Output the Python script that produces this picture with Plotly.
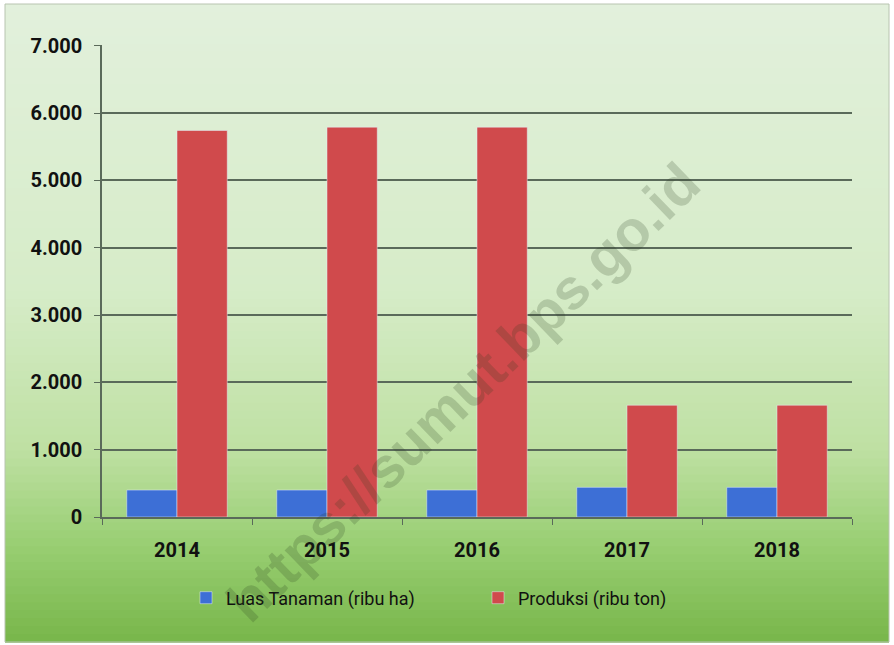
import plotly.graph_objects as go

years = ["2014", "2015", "2016", "2017", "2018"]
luas_tanaman = [400, 400, 400, 440, 440]
produksi = [5740, 5790, 5790, 1660, 1660]
y_ticks = [0, 1000, 2000, 3000, 4000, 5000, 6000, 7000]

series_names = ["Luas Tanaman (ribu ha)", "Produksi (ribu ton)"]
colors = ["#3d6fd6", "#d04a4c"]

font_family = "Roboto, Liberation Sans, Arial, sans-serif"

fig = go.Figure()
fig.add_trace(go.Bar(x=years, y=luas_tanaman, name=series_names[0], marker_color=colors[0],
                     legend="legend"))
fig.add_trace(go.Bar(x=years, y=produksi, name=series_names[1], marker_color=colors[1],
                     legend="legend2"))

# plot area in pixels
L, R, T, B = 102, 852, 45, 517
PW, PH = R - L, B - T

def px_x(x):
    return (x - L) / PW

def px_y(y):
    return (B - y) / PH

def lerp(a, b, t):
    return tuple(int(round(a[i] + (b[i] - a[i]) * t)) for i in range(3))

stops = [(0.0, (226, 240, 220)), (0.45, (214, 236, 200)), (0.7, (190, 224, 162)),
         (0.85, (152, 206, 114)), (1.0, (120, 182, 74))]

def grad(t):
    for i in range(len(stops) - 1):
        t0, c0 = stops[i]
        t1, c1 = stops[i + 1]
        if t0 <= t <= t1:
            return lerp(c0, c1, (t - t0) / (t1 - t0))
    return stops[-1][1]

shapes = []
N = 80
top_px, bot_px = 4, 642
for i in range(N):
    y0 = top_px + (bot_px - top_px) * i / N
    y1 = top_px + (bot_px - top_px) * (i + 1) / N + 0.8
    c = grad((i + 0.5) / N)
    shapes.append(dict(type="rect", xref="paper", yref="paper", layer="below",
                       x0=px_x(5), x1=px_x(889), y0=px_y(y1), y1=px_y(y0),
                       fillcolor="rgb(%d,%d,%d)" % c, line=dict(width=0)))
shapes.append(dict(type="rect", xref="paper", yref="paper", layer="above",
                   x0=px_x(5), x1=px_x(889), y0=px_y(642), y1=px_y(4),
                   fillcolor="rgba(0,0,0,0)", line=dict(color="#b8c4b0", width=1)))

legend_style = dict(orientation="h", xanchor="left", y=px_y(598), yanchor="middle",
                    font=dict(size=18, family=font_family, color="#111111"),
                    bgcolor="rgba(0,0,0,0)", itemwidth=30)

fig.update_layout(
    width=894, height=645,
    margin=dict(l=L, r=894 - R, t=T, b=645 - B),
    paper_bgcolor="white",
    plot_bgcolor="rgba(0,0,0,0)",
    separators=",.",
    barmode="group",
    bargap=0.33,
    bargroupgap=0,
    shapes=shapes,
    font=dict(family=font_family, color="#111111"),
    showlegend=True,
    legend=dict(x=px_x(186), **legend_style),
    legend2=dict(x=px_x(478), **legend_style),
    xaxis=dict(type="category", tickson="boundaries", showgrid=False,
               showline=True, linecolor="#5a6a5a", linewidth=1.5,
               ticks="outside", ticklen=6, tickcolor="#5a6a5a",
               tickfont=dict(size=20, family=font_family, color="#111111", weight="bold"),
               ticklabelstandoff=14, automargin=False),
    yaxis=dict(range=[0, 7010], tickvals=y_ticks, tickformat=",d",
               showgrid=True, gridcolor="#5a6a5a", gridwidth=1.5,
               showline=True, linecolor="#5a6a5a", linewidth=1.5,
               ticks="outside", ticklen=6, tickcolor="#5a6a5a",
               tickfont=dict(size=20, family=font_family, color="#111111", weight="bold"),
               ticklabelstandoff=8, zeroline=False, automargin=False),
)

fig.add_annotation(text="<b>https://sumut.bps.go.id</b>", xref="paper", yref="paper",
                   x=px_x(463), y=px_y(392), xanchor="center", yanchor="middle",
                   showarrow=False, textangle=-44,
                   font=dict(size=57, family="Liberation Sans, Arial, sans-serif",
                             color="rgba(40,60,30,0.2)"))

fig.write_html("out.html", config={"displayModeBar": False},
               post_script="document.body.style.margin='0';")
